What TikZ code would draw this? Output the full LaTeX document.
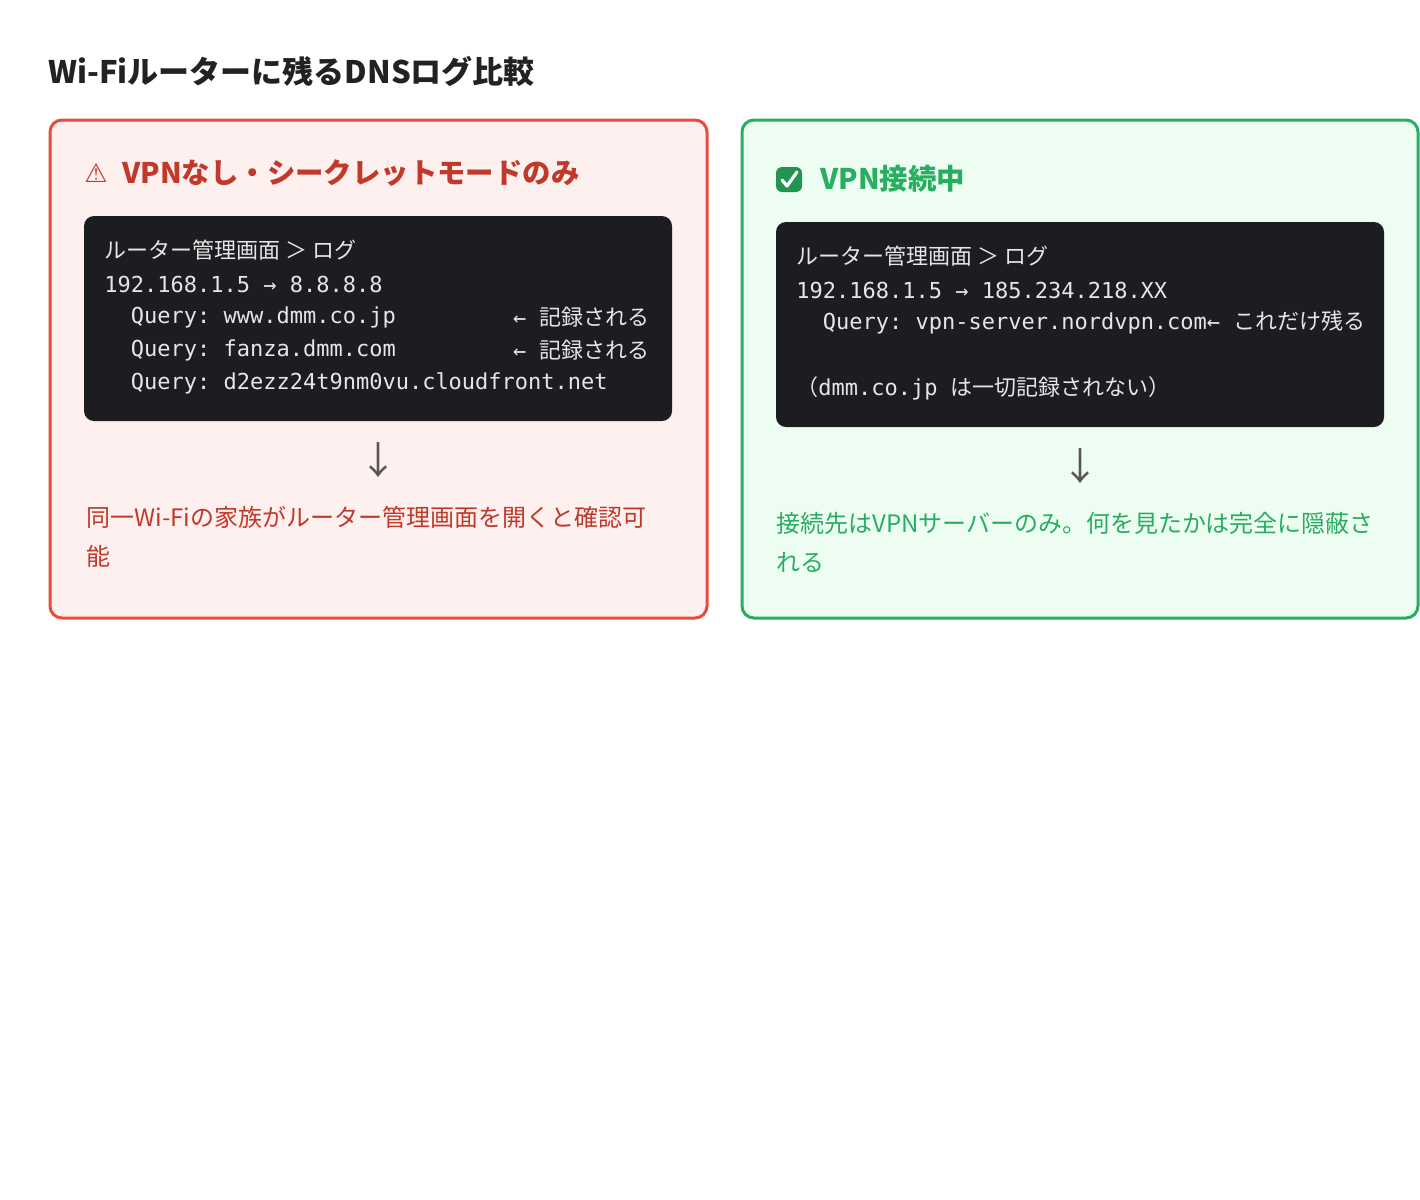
\documentclass[tikz,border=0pt]{standalone}
\usepackage{fontspec}
\setmainfont{Noto Sans CJK JP}
\setmonofont{DejaVu Sans Mono}
\newfontfamily\cjk{Noto Sans CJK JP}
\newfontfamily\dejavu{DejaVu Sans}
\definecolor{red1}{HTML}{E74C3C}
\definecolor{redfill}{HTML}{FDF0EF}
\definecolor{redtxt}{HTML}{C0392B}
\definecolor{grn1}{HTML}{27AE60}
\definecolor{grnfill}{HTML}{EEFDF2}
\definecolor{code}{HTML}{1C1D21}
\definecolor{codetxt}{HTML}{E6E6E6}
\begin{document}
\begin{tikzpicture}[x=0.5pt,y=-0.5pt,
 panel/.style={line width=1.5pt,rounded corners=6pt},
 cl/.style={anchor=west,inner sep=0,text=codetxt,font=\ttfamily\fontsize{11}{13}\selectfont},
 jl/.style={anchor=west,inner sep=0,font=\fontsize{12}{14}\selectfont},
 hd/.style={anchor=west,inner sep=0,font=\bfseries\fontsize{14.2}{17}\selectfont}]
\useasboundingbox (0,0) rectangle (1420,1200);
\fill[white] (0,0) rectangle (1420,1200);
\node[anchor=west,inner sep=0,text={rgb,255:red,34;green,34;blue,34},font=\bfseries\fontsize{15.5}{18}\selectfont] (title) at (48,71) {Wi-Fiルーターに残るDNSログ比較};
% left
\draw[panel,draw=red1,fill=redfill] (50,120) rectangle (707,618);
\node[anchor=west,inner sep=0,text=redtxt,font=\dejavu\fontsize{13}{15}\selectfont] (warn) at (84,173) {⚠};
\node[hd,text=redtxt] (lh) at (122,173) {VPNなし・シークレットモードのみ};
\fill[code,rounded corners=5pt] (84,216) rectangle (672,421);
\node[cl] (l1) at (104,250) {{\cjk ルーター管理画面\ ＞\ ログ}};
\node[cl] (l2) at (104,284) {192.168.1.5 → 8.8.8.8};
\node[cl] (l3) at (104,317) {\ \ Query: www.dmm.co.jp};
\node[cl] (l4) at (104,350) {\ \ Query: fanza.dmm.com};
\node[cl] (l5) at (104,383) {\ \ Query: d2ezz24t9nm0vu.cloudfront.net};
\node[cl,anchor=east] (l3r) at (650,317) {← {\cjk 記録される}};
\node[cl,anchor=east] (l4r) at (650,350) {← {\cjk 記録される}};
\node[inner sep=0,text={rgb,255:red,85;green,85;blue,85},font=\fontsize{19}{21}\selectfont] (la) at (378,460) {↓};
\node[jl,text=redtxt] (lt1) at (86,517) {同一Wi-Fiの家族がルーター管理画面を開くと確認可};
\node[jl,text=redtxt] (lt2) at (86,556) {能};
% right
\draw[panel,draw=grn1,fill=grnfill] (742,120) rectangle (1418,618);
\fill[grn1!85!black,rounded corners=3pt] (776,167) rectangle (802,192);
\draw[white,line width=1.6pt,line cap=round,line join=round] (782,180) -- (787,186) -- (797,172);
\node[hd,text=grn1] (rh) at (820,179) {VPN接続中};
\fill[code,rounded corners=5pt] (776,222) rectangle (1384,427);
\node[cl] (r1) at (796,256) {{\cjk ルーター管理画面\ ＞\ ログ}};
\node[cl] (r2) at (796,290) {192.168.1.5 → 185.234.218.XX};
\node[cl] (r3) at (796,322) {\ \ Query: vpn-server.nordvpn.com← {\cjk これだけ残る}};
\node[cl] (r4) at (796,388) {{\cjk （}dmm.co.jp {\cjk は一切記録されない）}};
\node[inner sep=0,text={rgb,255:red,85;green,85;blue,85},font=\fontsize{19}{21}\selectfont] (ra) at (1080,466) {↓};
\node[jl,text=grn1] (rt1) at (776,523) {接続先はVPNサーバーのみ。何を見たかは完全に隠蔽さ};
\node[jl,text=grn1] (rt2) at (776,562) {れる};
\end{tikzpicture}
\end{document}
